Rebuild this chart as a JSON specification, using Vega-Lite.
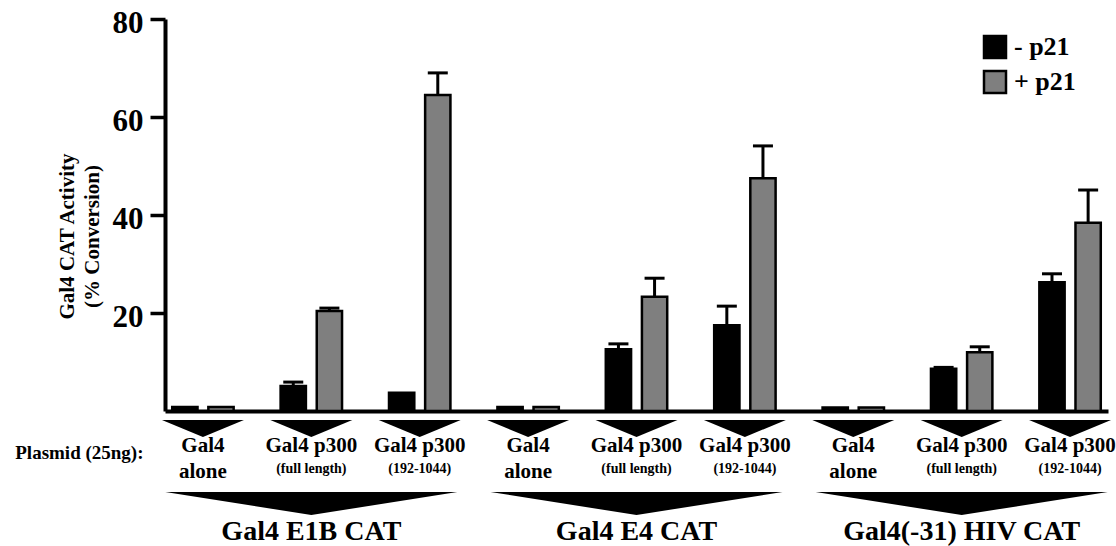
{
  "$schema": "https://vega.github.io/schema/vega-lite/v6.json",
  "autosize": "none",
  "width": 943,
  "height": 392,
  "padding": {"left": 165, "top": 19, "right": 8, "bottom": 135},
  "background": "white",
  "config": {
    "view": {"stroke": null},
    "font": "Liberation Serif, Times New Roman, serif"
  },
  "datasets": {
    "bars": [
      {"group": "E1B alone", "p21": "- p21", "value": 0.8, "upper": null},
      {"group": "E1B alone", "p21": "+ p21", "value": 0.8, "upper": null},
      {"group": "E1B full", "p21": "- p21", "value": 5.1, "upper": 5.9},
      {"group": "E1B full", "p21": "+ p21", "value": 20.4, "upper": 21.0},
      {"group": "E1B 192", "p21": "- p21", "value": 3.7, "upper": null},
      {"group": "E1B 192", "p21": "+ p21", "value": 64.5, "upper": 69.0},
      {"group": "E4 alone", "p21": "- p21", "value": 0.8, "upper": null},
      {"group": "E4 alone", "p21": "+ p21", "value": 0.8, "upper": null},
      {"group": "E4 full", "p21": "- p21", "value": 12.6, "upper": 13.7},
      {"group": "E4 full", "p21": "+ p21", "value": 23.3, "upper": 27.1},
      {"group": "E4 192", "p21": "- p21", "value": 17.5, "upper": 21.4},
      {"group": "E4 192", "p21": "+ p21", "value": 47.5, "upper": 54.1},
      {"group": "HIV alone", "p21": "- p21", "value": 0.7, "upper": null},
      {"group": "HIV alone", "p21": "+ p21", "value": 0.7, "upper": null},
      {"group": "HIV full", "p21": "- p21", "value": 8.6, "upper": 8.9},
      {"group": "HIV full", "p21": "+ p21", "value": 12.0, "upper": 13.1},
      {"group": "HIV 192", "p21": "- p21", "value": 26.3, "upper": 28.0},
      {"group": "HIV 192", "p21": "+ p21", "value": 38.4, "upper": 45.1}
    ],
    "plasmids": [
      {"group": "E1B alone", "line1": "Gal4", "line2": "alone", "kind": "alone"},
      {"group": "E1B full", "line1": "Gal4 p300", "line2": "(full length)", "kind": "p300"},
      {"group": "E1B 192", "line1": "Gal4 p300", "line2": "(192-1044)", "kind": "p300"},
      {"group": "E4 alone", "line1": "Gal4", "line2": "alone", "kind": "alone"},
      {"group": "E4 full", "line1": "Gal4 p300", "line2": "(full length)", "kind": "p300"},
      {"group": "E4 192", "line1": "Gal4 p300", "line2": "(192-1044)", "kind": "p300"},
      {"group": "HIV alone", "line1": "Gal4", "line2": "alone", "kind": "alone"},
      {"group": "HIV full", "line1": "Gal4 p300", "line2": "(full length)", "kind": "p300"},
      {"group": "HIV 192", "line1": "Gal4 p300", "line2": "(192-1044)", "kind": "p300"}
    ],
    "reporters": [
      {"group": "E1B full", "label": "Gal4 E1B CAT"},
      {"group": "E4 full", "label": "Gal4 E4 CAT"},
      {"group": "HIV full", "label": "Gal4(-31) HIV CAT"}
    ]
  },
  "encoding": {
    "x": {
      "field": "group",
      "type": "nominal",
      "scale": {
        "domain": ["E1B alone", "E1B full", "E1B 192", "E4 alone", "E4 full", "E4 192", "HIV alone", "HIV full", "HIV 192"],
        "paddingInner": 0.3,
        "paddingOuter": 0
      },
      "axis": {
        "labels": false,
        "ticks": false,
        "domain": true,
        "domainColor": "black",
        "domainWidth": 4,
        "title": "Plasmid (25ng):",
        "titleFont": "Liberation Serif, Times New Roman, serif",
        "titleFontSize": 19,
        "titleFontWeight": "bold",
        "titleColor": "black",
        "titleX": -22,
        "titleY": 47,
        "titleAlign": "right",
        "titleBaseline": "alphabetic",
        "titleAngle": 0
      }
    }
  },
  "layer": [
    {
      "data": {"name": "bars"},
      "mark": {"type": "bar", "stroke": "black", "strokeWidth": 2.5},
      "encoding": {
        "xOffset": {
          "field": "p21",
          "type": "nominal",
          "scale": {"domain": ["- p21", "+ p21"], "paddingInner": 0.3, "paddingOuter": 0.2}
        },
        "y": {
          "field": "value",
          "type": "quantitative",
          "scale": {"domain": [0, 80], "nice": false, "zero": true},
          "axis": {
            "values": [20, 40, 60, 80],
            "grid": false,
            "domainColor": "black",
            "domainWidth": 4,
            "tickColor": "black",
            "tickSize": 15,
            "tickWidth": 3.5,
            "labelFont": "Liberation Serif, Times New Roman, serif",
            "labelFontSize": 31,
            "labelFontWeight": "bold",
            "labelColor": "black",
            "labelPadding": 7,
            "labelOffset": 4,
            "title": ["Gal4 CAT Activity", "(% Conversion)"],
            "titleFont": "Liberation Serif, Times New Roman, serif",
            "titleFontSize": 21,
            "titleFontWeight": "bold",
            "titleColor": "black",
            "titleLineHeight": 25,
            "titleAngle": -90,
            "titleX": -88,
            "titleY": 217,
            "titleAlign": "center",
            "titleBaseline": "bottom"
          }
        },
        "color": {
          "field": "p21",
          "type": "nominal",
          "scale": {"domain": ["- p21", "+ p21"], "range": ["#000000", "#7f7f7f"]},
          "legend": {
            "title": null,
            "orient": "none",
            "legendX": 817,
            "legendY": 15,
            "padding": 0,
            "symbolType": "square",
            "symbolSize": 484,
            "symbolStrokeColor": "black",
            "symbolStrokeWidth": 2.5,
            "symbolOpacity": 1,
            "labelFont": "Liberation Serif, Times New Roman, serif",
            "labelFontSize": 26,
            "labelFontWeight": "bold",
            "labelColor": "black",
            "labelOffset": 6,
            "rowPadding": 3
          }
        }
      }
    },
    {
      "data": {"name": "bars"},
      "mark": {"type": "rule", "color": "black", "strokeWidth": 3},
      "encoding": {
        "xOffset": {"field": "p21", "type": "nominal"},
        "y": {"field": "value", "type": "quantitative"},
        "y2": {"field": "upper"}
      }
    },
    {
      "data": {"name": "bars"},
      "mark": {"type": "tick", "color": "black", "size": 20, "thickness": 3, "opacity": 1},
      "encoding": {
        "xOffset": {"field": "p21", "type": "nominal"},
        "y": {"field": "upper", "type": "quantitative"}
      }
    },
    {
      "data": {"name": "plasmids"},
      "mark": {"type": "point", "shape": "M-1,-0.207L1,-0.207L0,0.207Z", "size": 6724, "filled": true, "fill": "black", "strokeWidth": 0, "opacity": 1, "yOffset": 17.5},
      "encoding": {"y": {"datum": 0}}
    },
    {
      "data": {"name": "plasmids"},
      "mark": {"type": "text", "font": "Liberation Serif, Times New Roman, serif", "fontWeight": "bold", "color": "black", "fontSize": 21, "baseline": "alphabetic", "align": "center", "yOffset": 41},
      "encoding": {"y": {"datum": 0}, "text": {"field": "line1"}}
    },
    {
      "data": {"name": "plasmids"},
      "transform": [{"filter": "datum.kind === 'alone'"}],
      "mark": {"type": "text", "font": "Liberation Serif, Times New Roman, serif", "fontWeight": "bold", "color": "black", "fontSize": 21, "baseline": "alphabetic", "align": "center", "yOffset": 67},
      "encoding": {"y": {"datum": 0}, "text": {"field": "line2"}}
    },
    {
      "data": {"name": "plasmids"},
      "transform": [{"filter": "datum.kind === 'p300'"}],
      "mark": {"type": "text", "font": "Liberation Serif, Times New Roman, serif", "fontWeight": "bold", "color": "black", "fontSize": 14, "baseline": "alphabetic", "align": "center", "yOffset": 62},
      "encoding": {"y": {"datum": 0}, "text": {"field": "line2"}}
    },
    {
      "data": {"name": "reporters"},
      "mark": {"type": "point", "shape": "M-1,-0.079L1,-0.079L0,0.079Z", "size": 85264, "filled": true, "fill": "black", "strokeWidth": 0, "opacity": 1, "yOffset": 92.5},
      "encoding": {"y": {"datum": 0}}
    },
    {
      "data": {"name": "reporters"},
      "mark": {"type": "text", "font": "Liberation Serif, Times New Roman, serif", "fontWeight": "bold", "color": "black", "fontSize": 28, "baseline": "alphabetic", "align": "center", "yOffset": 129},
      "encoding": {"y": {"datum": 0}, "text": {"field": "label"}}
    }
  ]
}
